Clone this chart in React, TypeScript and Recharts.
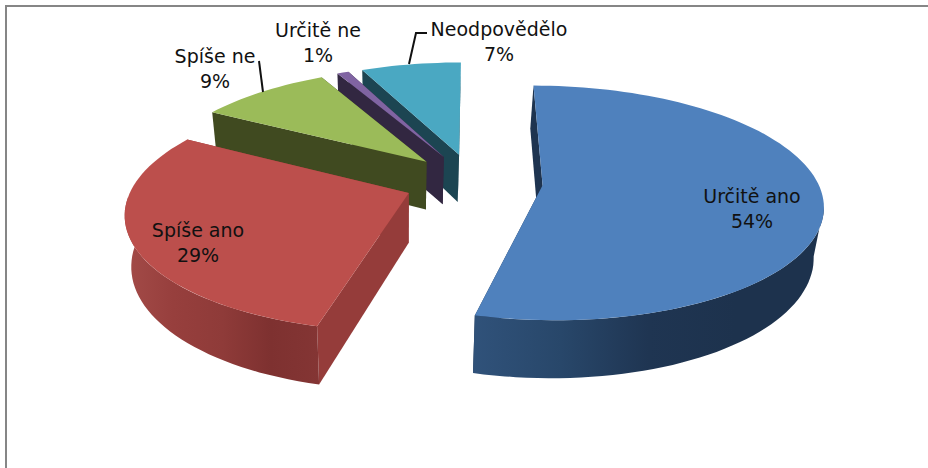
import { PieChart, Pie } from "recharts";

const names = ["Neodpovědělo", "Určitě ne", "Spíše ne", "Spíše ano", "Určitě ano"];
const shares = [6.9, 0.8, 9.1, 29.2, 53.9];

const topColors = ["#4aa8c2", "#8064a2", "#9bbb59", "#bc4f4c", "#4f81bd"];
const edgeColors = ["#1c4552", "#322741", "#404a20", "#953c3a", "#1e3450"];
const arcStops: string[][] = [
  ["#1c4552", "#1c4552"],
  ["#322741", "#322741"],
  ["#404a20", "#404a20"],
  ["#a34b48", "#973f3d", "#8f3b39", "#7e3130", "#843534"],
  ["#30527a", "#28476a", "#1f3552", "#1d324d", "#1d324d"],
];

const data = names.map((name, i) => ({ name, value: shares[i], index: i }));

// tilt and perspective of the 3D pie
const SQUASH = 0.413;
const PERSPECTIVE = 0.15;
const EXPLODE = 0.252;
const DEPTH = 49;
const BOTTOM_SCALE = 0.976;
const BOTTOM_SHIFT = -74;

const Slice3D = (props: any) => {
  const { cx, cy, outerRadius, startAngle, endAngle, payload } = props;
  const i = payload.index;
  // angles clockwise from the top
  const t0 = 450 - endAngle;
  const t1 = 450 - startAngle;
  const tm = (t0 + t1) / 2;
  const rad = (d: number) => (d * Math.PI) / 180;
  const offU = EXPLODE * Math.sin(rad(tm));
  const offV = EXPLODE * Math.cos(rad(tm));

  const project = (u: number, v: number, low = false) => {
    const w = 1 + PERSPECTIVE * v;
    const x = (outerRadius * u) / w;
    const y = (-outerRadius * SQUASH * v) / w;
    if (!low) return [cx + x, cy + y];
    return [cx + BOTTOM_SHIFT + (x - BOTTOM_SHIFT) * BOTTOM_SCALE, cy + y + DEPTH / w];
  };
  const apex = (low = false) => project(offU, offV, low);
  const rim = (t: number, low = false) =>
    project(offU + Math.sin(rad(t)), offV + Math.cos(rad(t)), low);
  const arc = (from: number, to: number, low = false) => {
    const pts = [];
    const n = Math.max(2, Math.ceil(Math.abs(to - from) / 2));
    for (let k = 0; k <= n; k++) pts.push(rim(from + ((to - from) * k) / n, low));
    return pts;
  };
  const toPath = (pts: number[][]) =>
    "M" + pts.map((p) => `${p[0].toFixed(1)},${p[1].toFixed(1)}`).join("L") + "Z";

  const wallFrom = Math.max(t0, 100);
  const wallTo = Math.min(t1, 268);
  const hasWall = wallTo > wallFrom;
  const wallPts = hasWall
    ? [...arc(wallFrom, wallTo), ...arc(wallTo, wallFrom, true)]
    : [];
  const xs = wallPts.map((p) => p[0]);
  const gradId = `wall-${i}`;
  const stops = arcStops[i];

  return (
    <g>
      <path d={toPath([apex(), rim(t1), rim(t1, true), apex(true)])} fill={edgeColors[i]} />
      <path d={toPath([apex(), rim(t0), rim(t0, true), apex(true)])} fill={edgeColors[i]} />
      {hasWall && (
        <>
          <defs>
            <linearGradient
              id={gradId}
              gradientUnits="userSpaceOnUse"
              x1={Math.min(...xs)}
              x2={Math.max(...xs)}
              y1={0}
              y2={0}
            >
              {stops.map((c, k) => (
                <stop key={k} offset={k / (stops.length - 1)} stopColor={c} />
              ))}
            </linearGradient>
          </defs>
          <path d={toPath(wallPts)} fill={`url(#${gradId})`} />
        </>
      )}
      <path d={toPath([apex(), ...arc(t0, t1)])} fill={topColors[i]} />
    </g>
  );
};

const labelSpots: Record<string, { x: number; y: number }> = {
  "Určitě ano": { x: 752, y: 196 },
  "Spíše ano": { x: 198, y: 230 },
  "Spíše ne": { x: 215, y: 56 },
  "Určitě ne": { x: 318, y: 30 },
  Neodpovědělo: { x: 499, y: 29 },
};

const leaders: Record<string, string> = {
  "Spíše ne": "M259,61L263,92",
  Neodpovědělo: "M427,33L416,33L409,64",
};

const SliceLabel = ({ name, value }: any) => {
  const spot = labelSpots[name];
  return (
    <g>
      {leaders[name] && <path d={leaders[name]} fill="none" stroke="#111" strokeWidth={2} />}
      <text x={spot.x} y={spot.y} textAnchor="middle" dominantBaseline="central" fill="#111" fontSize={19} fontFamily="DejaVu Sans">
        {name}
      </text>
      <text x={spot.x} y={spot.y + 25} textAnchor="middle" dominantBaseline="central" fill="#111" fontSize={19} fontFamily="DejaVu Sans">
        {Math.round(value)}%
      </text>
    </g>
  );
};

export default function App() {
  return (
    <div style={{ position: "absolute", left: 0, top: 0, width: 928, height: 468, background: "#fff" }}>
      <div
        style={{
          position: "absolute",
          left: 5,
          top: 5,
          right: 0,
          bottom: 0,
          borderLeft: "2px solid #868686",
          borderTop: "2px solid #868686",
        }}
      />
      <div style={{ position: "absolute", left: 0, top: 0 }}>
        <PieChart width={928} height={468} margin={{ top: 0, right: 0, bottom: 0, left: 0 }}>
          <Pie
            data={data}
            dataKey="value"
            nameKey="name"
            cx={473.5}
            cy={181.7}
            innerRadius={0}
            outerRadius={275}
            startAngle={90}
            endAngle={450}
            stroke="none"
            shape={Slice3D}
            label={SliceLabel}
            labelLine={false}
            isAnimationActive={false}
          />
        </PieChart>
      </div>
    </div>
  );
}
